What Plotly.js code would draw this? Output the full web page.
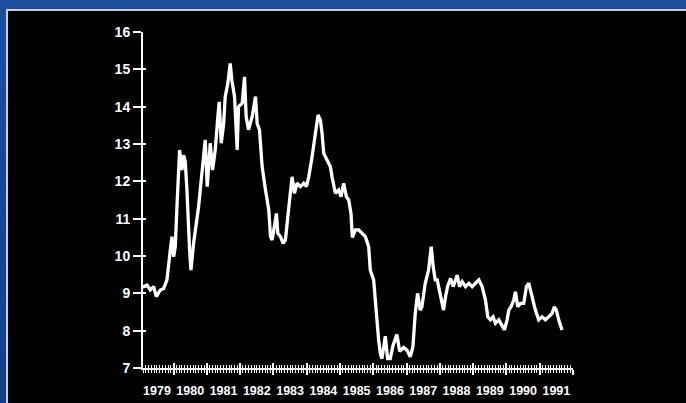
<!DOCTYPE html>
<html>
<head>
<meta charset="utf-8">
<script src="https://cdn.plot.ly/plotly-3.0.1.min.js"></script>
<style>
  html, body { margin: 0; padding: 0; width: 686px; height: 403px; overflow: hidden;
    background: linear-gradient(180deg, #1b4f9e 0%, #123f8a 100%); }
  #frame { position: absolute; left: 6px; top: 9px; width: 680px; height: 394px;
    background: #c9cfdb; }
  #chart { position: absolute; left: 8px; top: 11px; width: 678px; height: 392px; background: #000; }
</style>
</head>
<body>
<div id="frame"></div>
<div id="chart"></div>
<script>
// decimal year of each observation
const years = [
  1979.05,1979.20,1979.30,1979.40,1979.48,1979.60,1979.70,1979.80,1979.90,1979.95,
  1980.00,1980.05,1980.10,1980.18,1980.25,1980.30,1980.35,1980.40,1980.48,1980.52,1980.60,1980.75,1980.90,1980.95,
  1981.01,1981.10,1981.17,1981.25,1981.33,1981.37,1981.43,1981.50,1981.55,1981.63,1981.70,1981.75,1981.83,1981.91,1981.95,
  1982.06,1982.13,1982.18,1982.25,1982.36,1982.46,1982.51,1982.58,1982.66,1982.76,1982.86,1982.91,1982.96,
  1983.01,1983.09,1983.13,1983.21,1983.29,1983.36,1983.43,1983.51,1983.56,1983.63,1983.71,1983.81,1983.91,1983.99,
  1984.06,1984.16,1984.26,1984.34,1984.41,1984.46,1984.51,1984.61,1984.71,1984.76,1984.86,1984.96,
  1985.03,1985.11,1985.19,1985.26,1985.33,1985.37,1985.46,1985.56,1985.66,1985.76,1985.86,1985.91,
  1986.01,1986.06,1986.11,1986.16,1986.21,1986.26,1986.36,1986.43,1986.51,1986.59,1986.71,1986.79,1986.91,
  1987.01,1987.11,1987.19,1987.26,1987.33,1987.41,1987.46,1987.56,1987.66,1987.74,1987.80,1987.86,1987.92,1987.99,
  1988.07,1988.11,1988.17,1988.23,1988.32,1988.40,1988.47,1988.52,1988.59,1988.67,1988.77,1988.87,1988.97,
  1989.07,1989.17,1989.27,1989.37,1989.44,1989.52,1989.60,1989.67,1989.77,1989.87,1989.94,
  1990.02,1990.07,1990.14,1990.22,1990.27,1990.34,1990.42,1990.52,1990.60,1990.67,1990.72,1990.77,1990.87,1990.97,
  1991.07,1991.17,1991.27,1991.37,1991.44,1991.50,1991.57,1991.67
];
// rate (%) at each observation
const rates = [
  9.16,9.22,9.09,9.18,8.91,9.09,9.13,9.36,10.16,10.52,
  9.98,10.25,11.32,12.84,12.30,12.70,12.53,11.77,10.16,9.62,10.34,11.32,12.66,13.11,
  11.86,13.02,12.30,12.84,13.73,14.13,13.02,13.51,14.27,14.63,15.16,14.71,14.27,12.84,14.00,
  14.09,14.80,13.73,13.38,13.73,14.27,13.55,13.38,12.39,11.77,11.23,10.52,10.43,
  10.70,11.14,10.61,10.52,10.34,10.43,11.05,11.68,12.12,11.68,11.95,11.86,11.95,11.86,
  12.12,12.66,13.29,13.78,13.64,13.29,12.75,12.57,12.39,12.12,11.68,11.77,
  11.59,11.95,11.59,11.50,11.14,10.50,10.70,10.70,10.61,10.52,10.25,9.62,
  9.36,8.91,8.29,7.75,7.40,7.25,7.85,7.25,7.25,7.60,7.90,7.45,7.55,
  7.48,7.30,7.57,8.46,9.00,8.55,8.64,9.27,9.62,10.25,9.71,9.36,9.36,9.09,
  8.73,8.55,8.91,9.18,9.40,9.18,9.36,9.49,9.18,9.31,9.18,9.27,9.18,
  9.27,9.36,9.18,8.82,8.37,8.29,8.37,8.20,8.29,8.11,8.02,
  8.29,8.55,8.64,8.82,9.04,8.64,8.73,8.73,9.18,9.27,9.09,8.91,8.55,8.29,
  8.37,8.29,8.37,8.46,8.64,8.55,8.29,8.02
];
const yearTicks = [1980,1981,1982,1983,1984,1985,1986,1987,1988,1989,1990,1991,1992];
const yearLabelPos = [1979.5,1980.5,1981.5,1982.5,1983.5,1984.5,1985.5,1986.5,1987.5,1988.5,1989.5,1990.5,1991.5];
const yearLabels = ['1979','1980','1981','1982','1983','1984','1985','1986','1987','1988','1989','1990','1991'];
const yTicks = [7,8,9,10,11,12,13,14,15,16];

const xRange = [1979.08, 1992];
const xFont = {family: 'Liberation Sans, Arial, sans-serif', size: 12.5, color: '#ffffff', weight: 'bold'};
const yFont = {family: 'Liberation Sans, Arial, sans-serif', size: 14, color: '#ffffff', weight: 'bold'};

// the visible series, plus transparent copies so the helper axes are drawn
const traces = [
  {type: 'scatter', mode: 'lines', x: years, y: rates, xaxis: 'x2', yaxis: 'y2',
   line: {color: 'rgba(0,0,0,0)', width: 0}, hoverinfo: 'skip'},
  {type: 'scatter', mode: 'lines', x: years, y: rates, xaxis: 'x3', yaxis: 'y',
   line: {color: 'rgba(0,0,0,0)', width: 0}, hoverinfo: 'skip'},
  {type: 'scatter', mode: 'lines', x: years, y: rates, xaxis: 'x', yaxis: 'y',
   line: {color: '#ffffff', width: 3.3}, hoverinfo: 'skip'}
];

const layout = {
  width: 678, height: 392,
  paper_bgcolor: '#000000', plot_bgcolor: 'rgba(0,0,0,0)',
  margin: {l: 135, r: 113, t: 21, b: 35, pad: 0},
  showlegend: false,
  xaxis: {
    range: xRange, tickmode: 'array', tickvals: yearTicks, showticklabels: false,
    ticks: 'outside', ticklen: 5, tickwidth: 2, tickcolor: '#ffffff',
    showline: true, linecolor: '#ffffff', linewidth: 2, showgrid: false, zeroline: false,
    minor: {tickmode: 'linear', tick0: 1979, dtick: 1/12, ticks: 'outside', ticklen: 3, tickwidth: 1, tickcolor: '#ffffff', showgrid: false}
  },
  xaxis2: {
    overlaying: 'x', anchor: 'y2', side: 'bottom',
    range: xRange, tickmode: 'array', tickvals: yearTicks, showticklabels: false,
    ticks: 'inside', ticklen: 5, tickwidth: 2, tickcolor: '#ffffff',
    showline: false, showgrid: false, zeroline: false,
    minor: {tickmode: 'linear', tick0: 1979, dtick: 1/12, ticks: 'inside', ticklen: 3, tickwidth: 1, tickcolor: '#ffffff', showgrid: false}
  },
  xaxis3: {
    overlaying: 'x', anchor: 'y', side: 'bottom',
    range: xRange, tickmode: 'array', tickvals: yearLabelPos, ticktext: yearLabels,
    ticks: 'outside', ticklen: 11, tickcolor: 'rgba(0,0,0,0)',
    showline: false, showgrid: false, zeroline: false, tickfont: xFont
  },
  yaxis: {
    range: [7, 16], tickmode: 'array', tickvals: yTicks,
    ticks: 'outside', ticklen: 8, tickwidth: 2, tickcolor: '#ffffff',
    showline: true, linecolor: '#ffffff', linewidth: 2, showgrid: false, zeroline: false,
    tickfont: yFont
  },
  yaxis2: {
    overlaying: 'y', anchor: 'x2', side: 'left',
    range: [7, 16], tickmode: 'array', tickvals: yTicks, showticklabels: false,
    ticks: 'inside', ticklen: 3, tickwidth: 2, tickcolor: '#ffffff',
    showline: false, showgrid: false, zeroline: false
  }
};

Plotly.newPlot('chart', traces, layout, {staticPlot: true, displayModeBar: false});
</script>
</body>
</html>
